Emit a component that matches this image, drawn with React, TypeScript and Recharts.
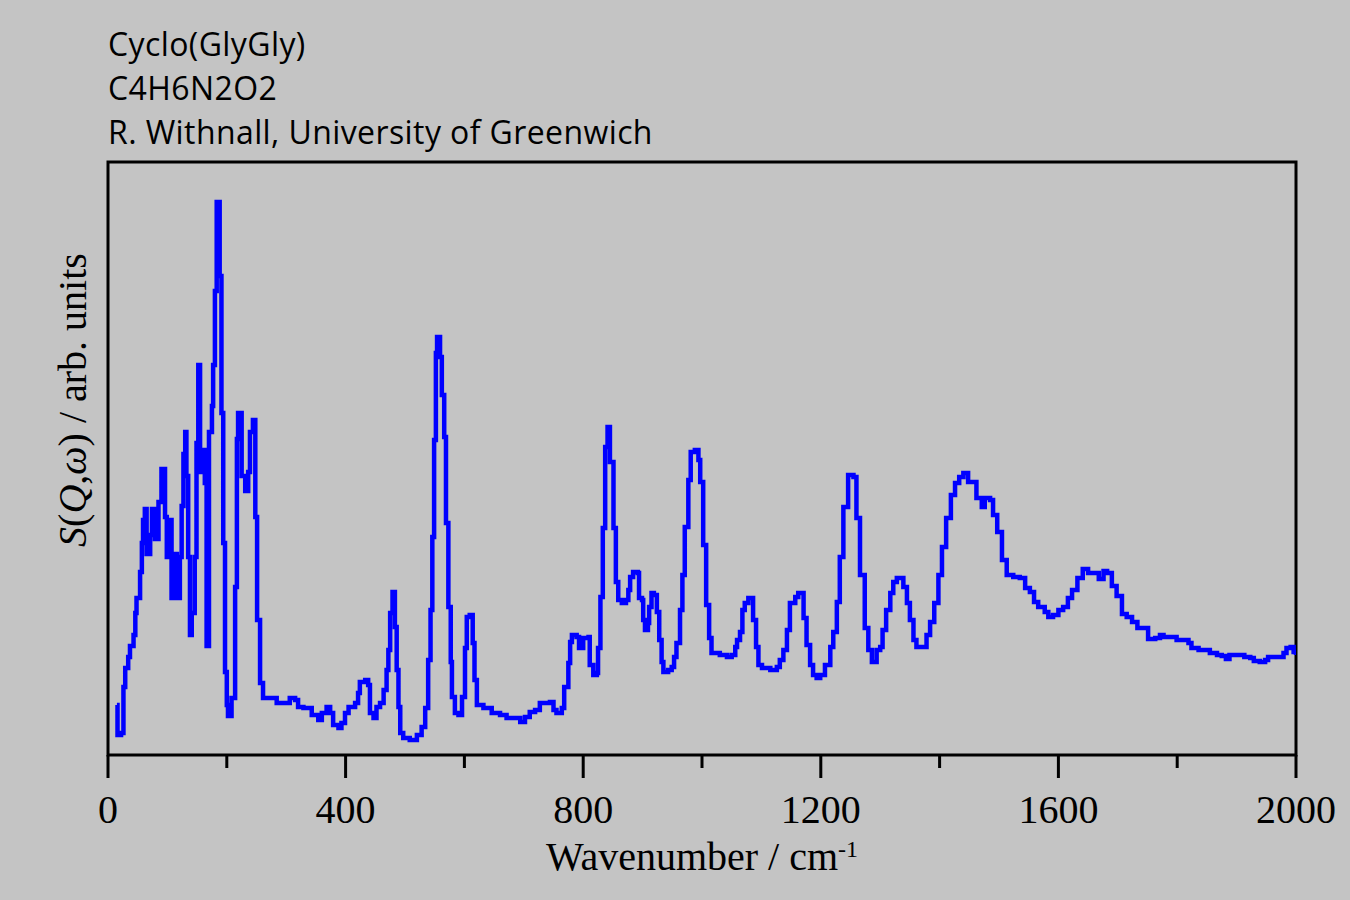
import React from 'react';
import { LineChart, Line, XAxis, YAxis, ReferenceArea } from 'recharts';

// wavenumber (cm-1) at each step of the measured spectrum
const wavenumber = [
  15, 16, 22, 26, 29, 34, 37, 43, 46, 48, 54, 57, 59, 62, 65, 71, 74, 79, 85, 90,
  96, 99, 104, 107, 113, 116, 121, 124, 127, 130, 132, 135, 138, 141, 146, 149, 152, 155, 158, 163,
  166, 170, 175, 177, 180, 183, 188, 191, 194, 197, 200, 202, 208, 214, 217, 219, 225, 231, 236, 239,
  244, 248, 251, 256, 261, 273, 284, 295, 306, 315, 320, 329, 337, 343, 354, 360, 368, 374, 379, 388,
  393, 399, 405, 416, 421, 424, 433, 438, 441, 447, 452, 458, 464, 469, 472, 475, 479, 483, 486, 489,
  492, 497, 508, 520, 528, 534, 539, 543, 546, 549, 552, 554, 559, 562, 566, 569, 573, 577, 579, 584,
  590, 596, 601, 604, 609, 614, 617, 621, 632, 646, 660, 671, 685, 694, 702, 710, 719, 727, 744, 750,
  755, 764, 768, 775, 778, 781, 789, 793, 800, 809, 811, 817, 823, 825, 829, 833, 837, 841, 845, 851,
  855, 859, 865, 872, 876, 879, 884, 892, 894, 899, 901, 904, 909, 911, 915, 919, 924, 928, 932, 935,
  943, 949, 953, 957, 963, 967, 971, 977, 981, 988, 994, 997, 1002, 1007, 1012, 1016, 1030, 1042, 1050, 1056,
  1059, 1064, 1068, 1072, 1078, 1086, 1091, 1095, 1101, 1115, 1126, 1131, 1137, 1143, 1148, 1157, 1162, 1168, 1171, 1176,
  1182, 1187, 1193, 1199, 1207, 1216, 1221, 1227, 1232, 1238, 1246, 1255, 1260, 1266, 1274, 1280, 1286, 1294, 1300, 1304,
  1310, 1317, 1322, 1328, 1336, 1339, 1345, 1350, 1356, 1361, 1373, 1378, 1384, 1391, 1398, 1404, 1411, 1419, 1426, 1433,
  1440, 1446, 1448, 1462, 1471, 1476, 1485, 1490, 1497, 1505, 1513, 1524, 1535, 1544, 1552, 1559, 1566, 1577, 1583, 1591,
  1600, 1608, 1616, 1623, 1632, 1641, 1650, 1662, 1668, 1676, 1682, 1690, 1698, 1707, 1715, 1724, 1733, 1744, 1751, 1763,
  1771, 1777, 1791, 1799, 1811, 1819, 1824, 1836, 1847, 1855, 1867, 1875, 1882, 1888, 1906, 1913, 1923, 1929, 1939, 1948,
  1953, 1970, 1979, 1984, 1991, 1996, 2000,
];

// S(Q,w), arbitrary units
const intensity = [
  0.50, 0.20, 0.22, 0.68, 0.87, 0.98, 1.09, 1.20, 1.42, 1.57, 1.83, 2.12, 2.35, 2.46, 2.01, 2.20, 2.46, 2.16, 2.53, 2.86,
  2.38, 1.98, 2.35, 1.57, 2.01, 1.57, 1.98, 2.49, 3.01, 3.23, 2.79, 1.98, 1.20, 1.42, 1.98, 3.12, 3.90, 2.83, 3.05, 2.72,
  1.09, 3.23, 3.49, 3.90, 4.64, 5.53, 4.79, 3.42, 2.12, 0.83, 0.50, 0.39, 0.57, 1.68, 3.16, 3.42, 2.79, 2.64, 2.83, 3.23,
  3.35, 2.38, 1.35, 0.72, 0.57, 0.57, 0.52, 0.52, 0.57, 0.55, 0.48, 0.47, 0.47, 0.40, 0.35, 0.42, 0.48, 0.42, 0.30, 0.27,
  0.32, 0.42, 0.48, 0.52, 0.62, 0.73, 0.75, 0.70, 0.42, 0.37, 0.48, 0.52, 0.65, 0.85, 1.05, 1.42, 1.63, 1.28, 0.85, 0.48,
  0.22, 0.17, 0.15, 0.20, 0.28, 0.47, 0.95, 1.45, 2.18, 3.15, 4.02, 4.18, 3.98, 3.60, 3.18, 2.32, 1.48, 0.93, 0.58, 0.42,
  0.40, 0.58, 1.07, 1.38, 1.40, 1.12, 0.75, 0.50, 0.47, 0.42, 0.40, 0.37, 0.37, 0.33, 0.38, 0.43, 0.45, 0.52, 0.53, 0.45,
  0.42, 0.47, 0.68, 0.92, 1.13, 1.20, 1.18, 1.07, 1.17, 1.18, 0.90, 0.80, 0.82, 1.07, 1.58, 2.27, 3.08, 3.28, 2.93, 2.27,
  1.73, 1.55, 1.52, 1.55, 1.65, 1.78, 1.83, 1.82, 1.57, 1.55, 1.35, 1.25, 1.32, 1.48, 1.62, 1.60, 1.43, 1.15, 0.93, 0.83,
  0.85, 0.88, 0.98, 1.12, 1.45, 1.80, 2.28, 2.75, 3.03, 3.05, 2.95, 2.73, 2.10, 1.50, 1.17, 1.02, 1.00, 0.98, 1.00, 1.08,
  1.15, 1.23, 1.45, 1.52, 1.57, 1.35, 1.08, 0.90, 0.87, 0.85, 0.88, 0.95, 1.05, 1.25, 1.52, 1.58, 1.62, 1.62, 1.37, 1.10,
  0.90, 0.80, 0.77, 0.80, 0.90, 1.08, 1.23, 1.53, 1.98, 2.48, 2.80, 2.78, 2.37, 1.80, 1.27, 1.05, 0.93, 1.05, 1.08, 1.25,
  1.45, 1.62, 1.73, 1.77, 1.77, 1.68, 1.52, 1.35, 1.15, 1.08, 1.08, 1.20, 1.33, 1.52, 1.80, 2.08, 2.37, 2.60, 2.72, 2.78,
  2.82, 2.82, 2.73, 2.57, 2.48, 2.57, 2.55, 2.40, 2.23, 1.95, 1.80, 1.78, 1.77, 1.67, 1.63, 1.53, 1.48, 1.43, 1.38, 1.40,
  1.45, 1.48, 1.57, 1.65, 1.77, 1.86, 1.82, 1.82, 1.76, 1.84, 1.82, 1.69, 1.59, 1.41, 1.38, 1.33, 1.27, 1.27, 1.16, 1.17,
  1.20, 1.18, 1.18, 1.15, 1.15, 1.12, 1.07, 1.05, 1.05, 1.02, 1.00, 0.99, 0.96, 1.00, 1.00, 0.98, 0.97, 0.94, 0.93, 0.95,
  0.98, 0.98, 1.02, 1.07, 1.08, 1.03, 1.00,
];

const xTicks = [0, 200, 400, 600, 800, 1000, 1200, 1400, 1600, 1800, 2000];
const titleLines = ['Cyclo(GlyGly)', 'C4H6N2O2', 'R. Withnall, University of Greenwich'];

const serif = "'Liberation Serif', 'Times New Roman', serif";

const WaveTick = (props: any) => {
  const { x, y, payload } = props;
  const major = payload.value % 400 === 0;
  return (
    <g>
      <line x1={x} x2={x} y1={y} y2={y + (major ? 23 : 13)} stroke="#000" strokeWidth={3} />
      {major && (
        <text x={x} y={y + 68} textAnchor="middle" fontFamily={serif} fontSize={40} fill="#000">
          {payload.value}
        </text>
      )}
    </g>
  );
};

export default function App() {
  const data = wavenumber.map((w, i) => ({ w, s: intensity[i] }));

  return (
    <div style={{ position: 'absolute', left: 0, top: 0, width: 1350, height: 900, background: '#c4c4c4', overflow: 'hidden' }}>
      {/* header text */}
      <div style={{ position: 'absolute', left: 108, top: 22, fontFamily: "'Open Sans', sans-serif", fontSize: 32, letterSpacing: 0.4, lineHeight: '44px', color: '#000' }}>
        {titleLines.map(t => <div key={t}>{t}</div>)}
      </div>

      <LineChart width={1350} height={900} data={data} margin={{ top: 162, right: 54, bottom: 0, left: 108 }}>
        <XAxis
          dataKey="w"
          type="number"
          domain={[0, 2000]}
          ticks={xTicks}
          interval={0}
          height={145}
          axisLine={false}
          tickLine={false}
          tickSize={0}
          tickMargin={0}
          tick={<WaveTick />}
          allowDataOverflow
        />
        <YAxis type="number" domain={[0, 5.93]} hide width={0} allowDataOverflow />
        <ReferenceArea x1={0} x2={2000} y1={0} y2={5.93} fill="none" stroke="#000" strokeWidth={3} ifOverflow="visible" />
        <Line
          type="stepAfter"
          dataKey="s"
          stroke="#0000ff"
          strokeWidth={4.5}
          dot={false}
          activeDot={false}
          isAnimationActive={false}
        />
      </LineChart>

      {/* axis titles */}
      <div style={{ position: 'absolute', left: 0, width: 1404, top: 837, textAlign: 'center', fontFamily: serif, fontSize: 40, lineHeight: '40px', color: '#000', whiteSpace: 'nowrap' }}>
        Wavenumber / cm<sup style={{ fontSize: 24, verticalAlign: 'top', position: 'relative', top: -8 }}>-1</sup>
      </div>
      <div
        style={{
          position: 'absolute', left: 73, top: 400, transform: 'translate(-50%, -50%) rotate(-90deg)',
          fontFamily: serif, fontSize: 40, lineHeight: '40px', color: '#000', whiteSpace: 'nowrap',
        }}
      >
        <i>S</i>(<i>Q</i>,<i>ω</i>) / arb. units
      </div>
    </div>
  );
}
